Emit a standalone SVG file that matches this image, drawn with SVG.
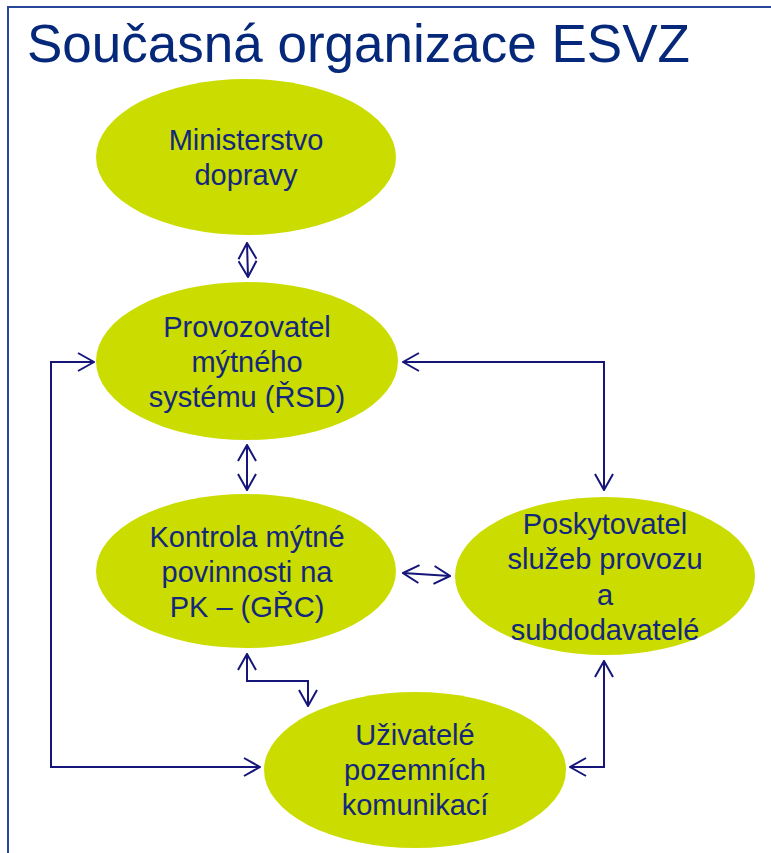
<svg xmlns="http://www.w3.org/2000/svg" width="771" height="853" viewBox="0 0 771 853">
<style>
.node ellipse{fill:#cbdc00;}
.node text{font-family:"Liberation Sans",Arial,sans-serif;font-size:29px;fill:#13287c;text-anchor:middle;}
.title{font-family:"Liberation Sans",Arial,sans-serif;font-size:53px;fill:#06287a;}
.conn path{fill:none;stroke:#15157a;stroke-width:2;}
</style>
<defs>
<marker id="ah" viewBox="0 0 18 20" refX="17" refY="10" markerWidth="18" markerHeight="20" markerUnits="userSpaceOnUse" orient="auto-start-reverse">
<path d="M1,1 L17,10 L1,19" fill="none" stroke="#15157a" stroke-width="2"/>
</marker>
</defs>
<rect width="771" height="853" fill="#ffffff"/>
<path d="M8,900 V7 H800" fill="none" stroke="#27479b" stroke-width="2"/>
<text class="title" x="27" y="62">Současná organizace ESVZ</text>

<g id="n1" class="node">
<ellipse cx="246" cy="157" rx="150" ry="78"/>
<text x="246" y="150">Ministerstvo</text>
<text x="246" y="185">dopravy</text>
</g>
<g id="n2" class="node">
<ellipse cx="247" cy="361" rx="151" ry="79"/>
<text x="247" y="337">Provozovatel</text>
<text x="247" y="372">mýtného</text>
<text x="247" y="407">systému (ŘSD)</text>
</g>
<g id="n3" class="node">
<ellipse cx="246" cy="571" rx="150" ry="77"/>
<text x="247" y="547">Kontrola mýtné</text>
<text x="247" y="582">povinnosti na</text>
<text x="247" y="617">PK – (GŘC)</text>
</g>
<g id="n4" class="node">
<ellipse cx="605" cy="576" rx="150" ry="79"/>
<text x="605" y="534">Poskytovatel</text>
<text x="605" y="569">služeb provozu</text>
<text x="605" y="605">a</text>
<text x="605" y="640">subdodavatelé</text>
</g>
<g id="n5" class="node">
<ellipse cx="415" cy="770" rx="151" ry="78"/>
<text x="415" y="745">Uživatelé</text>
<text x="415" y="780">pozemních</text>
<text x="415" y="815">komunikací</text>
</g>

<g id="connectors" class="conn">
<path d="M247,243 L248,277" marker-start="url(#ah)" marker-end="url(#ah)"/>
<path d="M247,445 L247,490" marker-start="url(#ah)" marker-end="url(#ah)"/>
<path d="M403,573 L450,576" marker-start="url(#ah)" marker-end="url(#ah)"/>
<path d="M94,362 H51 V767 H260" marker-start="url(#ah)" marker-end="url(#ah)"/>
<path d="M403,362 H604 V490" marker-start="url(#ah)" marker-end="url(#ah)"/>
<path d="M247,654 V681 H308 V706" marker-start="url(#ah)" marker-end="url(#ah)"/>
<path d="M604,661 V767 H570" marker-start="url(#ah)" marker-end="url(#ah)"/>
</g>
</svg>
